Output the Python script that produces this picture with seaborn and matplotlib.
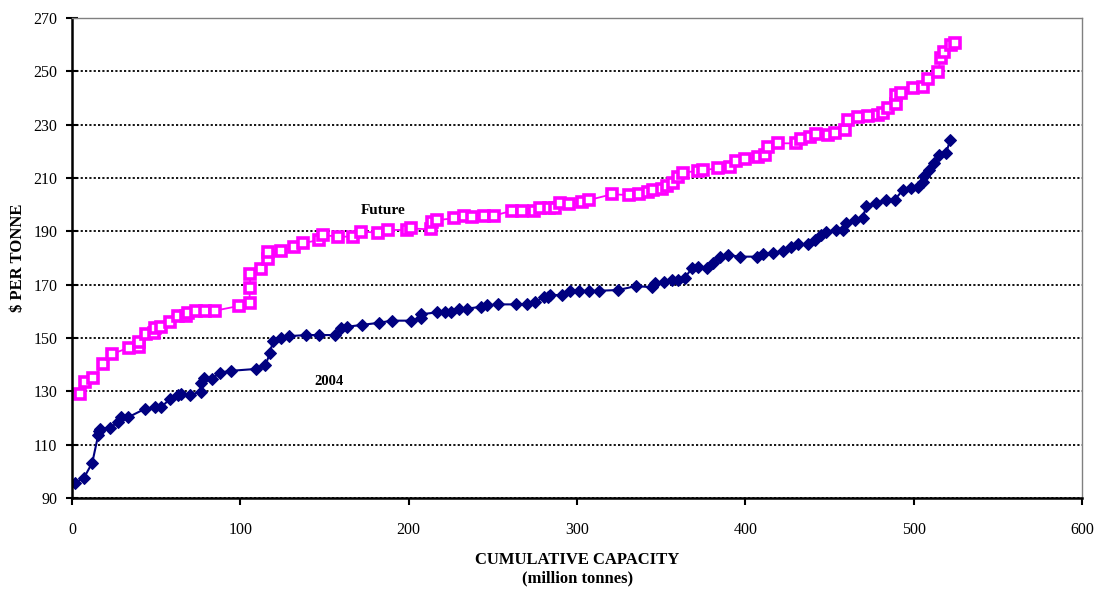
import matplotlib
matplotlib.use("Agg")
import matplotlib.pyplot as plt
from matplotlib.patches import Rectangle
import seaborn as sns

# --- DATA ---
CAP_2004 = [1.8, 7.1, 12.0, 15.5, 16.2, 16.5, 22.5, 27.4, 29.0, 33.4, 43.2, 49.2, 53.1, 58.0, 63.0,
            65.0, 69.9, 76.8, 76.8, 78.4, 83.1, 87.7, 94.6, 109.4, 114.9, 117.7, 119.3, 124.2, 129.1,
            139.0, 146.9, 156.4, 159.8, 163.3, 172.0, 182.5, 189.8, 201.6, 207.2, 207.5, 216.6, 221.4,
            225.3, 229.9, 234.8, 242.7, 246.3, 253.1, 264.0, 270.0, 275.3, 280.2, 282.8, 284.2, 291.1,
            296.0, 301.0, 306.9, 312.8, 324.6, 335.1, 344.4, 346.4, 351.9, 356.2, 360.2, 364.1, 368.1,
            372.0, 377.0, 380.9, 384.9, 389.8, 396.7, 406.6, 410.5, 416.5, 422.4, 427.3, 431.3, 437.2,
            441.2, 445.1, 448.0, 454.0, 457.9, 459.9, 464.9, 469.8, 471.7, 477.7, 483.6, 488.6, 493.5,
            498.4, 502.4, 505.3, 506.3, 509.3, 512.3, 515.2, 519.2, 521.6]
COST_2004 = [95.7, 97.6, 103.2, 113.5, 115.2, 116.0, 116.4, 118.4, 120.3, 120.3, 123.4, 124.1, 124.1,
             127.1, 128.6, 128.9, 128.6, 129.9, 133.0, 134.9, 134.6, 137.0, 137.7, 138.4, 139.9, 144.5,
             148.9, 150.1, 150.7, 151.1, 151.1, 151.1, 153.6, 154.2, 154.9, 155.7, 156.5, 156.5, 157.5,
             158.9, 159.6, 159.6, 159.6, 161.0, 161.0, 161.7, 162.2, 162.6, 162.6, 162.7, 163.6, 165.3,
             165.5, 166.1, 166.1, 167.7, 167.7, 167.7, 167.7, 168.0, 169.5, 169.0, 170.7, 171.1, 171.7,
             171.7, 172.6, 176.1, 176.7, 176.1, 178.0, 180.5, 181.1, 180.5, 180.5, 181.5, 182.0, 182.7,
             184.2, 185.1, 185.1, 186.7, 188.6, 189.9, 190.5, 190.5, 193.0, 194.2, 194.9, 199.5, 200.5,
             201.7, 201.7, 205.5, 206.1, 206.7, 208.6, 210.7, 213.0, 215.5, 218.6, 219.2, 224.2]

CAP_FUTURE = [4.7, 7.7, 12.3, 18.5, 23.5, 33.8, 39.7, 39.9, 43.7, 48.8, 49.0, 53.1, 58.1, 63.0, 67.5,
              68.9, 73.9, 78.8, 84.7, 98.9, 105.5, 105.5, 106.0, 112.4, 116.3, 116.3, 124.2, 131.7,
              137.0, 146.9, 148.9, 157.8, 166.6, 171.6, 181.5, 187.4, 199.2, 201.2, 213.1, 214.0, 217.0,
              226.9, 232.8, 237.7, 244.7, 250.6, 261.4, 267.4, 274.3, 278.2, 283.2, 287.1, 290.1, 295.0,
              302.9, 306.9, 320.7, 330.6, 336.5, 342.4, 345.4, 350.3, 353.3, 357.2, 360.2, 363.2, 372.0,
              375.0, 383.9, 390.8, 394.7, 399.7, 407.6, 411.5, 413.5, 419.4, 430.2, 433.2, 438.2, 442.1,
              449.0, 453.0, 458.9, 460.9, 466.8, 472.7, 478.7, 481.6, 484.6, 489.5, 489.5, 492.5, 499.4,
              505.3, 508.3, 514.2, 516.2, 518.2, 522.2, 524.7]
COST_FUTURE = [128.9, 133.4, 134.9, 140.1, 143.9, 146.4, 146.5, 148.6, 151.4, 151.8, 153.7, 154.2,
               155.9, 158.4, 158.4, 159.3, 160.2, 160.2, 160.2, 162.0, 163.2, 168.6, 174.0, 175.9,
               179.5, 182.1, 182.7, 184.2, 185.6, 186.7, 188.6, 188.0, 188.0, 189.9, 189.5, 190.5,
               190.5, 191.1, 190.7, 193.6, 194.2, 194.9, 195.9, 195.5, 195.9, 195.9, 197.7, 197.7,
               197.7, 198.6, 198.6, 198.6, 200.5, 200.2, 200.9, 201.7, 203.9, 203.6, 203.9, 204.9,
               205.5, 205.8, 207.0, 208.0, 210.5, 212.0, 212.7, 213.0, 213.6, 214.2, 216.5, 217.0,
               217.8, 218.6, 221.5, 223.0, 223.0, 224.6, 225.5, 226.5, 226.1, 226.8, 228.0, 231.7,
               233.0, 233.4, 233.6, 234.5, 236.1, 237.7, 241.1, 241.7, 243.6, 244.2, 247.0, 249.6,
               254.9, 257.4, 259.9, 260.5]

X_TICKS = [0, 100, 200, 300, 400, 500, 600]
Y_TICKS = [90, 110, 130, 150, 170, 190, 210, 230, 250, 270]

sns.set_style("white")
plt.rcParams["font.family"] = ["Liberation Serif", "DejaVu Serif"]
plt.rcParams["text.color"] = "black"
plt.rcParams["axes.labelcolor"] = "black"

fig = plt.figure(figsize=(10.95, 5.89), dpi=100)
ax = fig.add_axes([0.0658, 0.1545, 0.9224, 0.8150])

sns.lineplot(x=CAP_FUTURE, y=COST_FUTURE, sort=False, estimator=None, ax=ax,
             color="#FF00FF", lw=1.3, marker="s", markersize=7.3,
             markerfacecolor="white", markeredgecolor="#FF00FF", markeredgewidth=2.6)
sns.lineplot(x=CAP_2004, y=COST_2004, sort=False, estimator=None, ax=ax,
             color="#000080", lw=1.5, marker="D", markersize=6.3,
             markerfacecolor="#000080", markeredgecolor="#000080")

ax.text(185, 197.8, "Future", fontsize=11, fontweight="bold", ha="center", va="center")
# the 2004 label is half hidden behind the 130 gridline in the original
lbl = ax.text(152.5, 136.3, "2004", fontsize=10.5, fontweight="bold", ha="center", va="top")
lbl.set_clip_path(Rectangle((0, 132.2), 600, 20, transform=ax.transData))

ax.set_xlim(0, 600)
ax.set_ylim(90, 270)
ax.set_xticks(X_TICKS)
ax.set_yticks(Y_TICKS)
ax.yaxis.grid(True, color="black", linestyle=(0, (1.2, 1.2)), lw=1.3)
ax.xaxis.grid(False)

for side in ["top", "right"]:
    ax.spines[side].set_color("#808080")
    ax.spines[side].set_linewidth(1.0)
for side in ["left", "bottom"]:
    ax.spines[side].set_color("black")
    ax.spines[side].set_linewidth(1.8)

ax.tick_params(axis="both", width=1.5, labelsize=11.5, left=True, bottom=True, colors="black")
ax.tick_params(axis="x", direction="out", length=5, pad=12)
ax.tick_params(axis="y", direction="inout", length=9, pad=6)

ax.set_xlabel("CUMULATIVE CAPACITY\n(million tonnes)", fontsize=12, fontweight="bold",
              linespacing=1.2, va="top")
ax.xaxis.set_label_coords(0.5, -0.112)
ax.set_ylabel("\\$ PER TONNE", fontsize=12, fontweight="bold")
ax.yaxis.set_label_coords(-0.046, 0.5)

fig.savefig("out.png", dpi=100)
